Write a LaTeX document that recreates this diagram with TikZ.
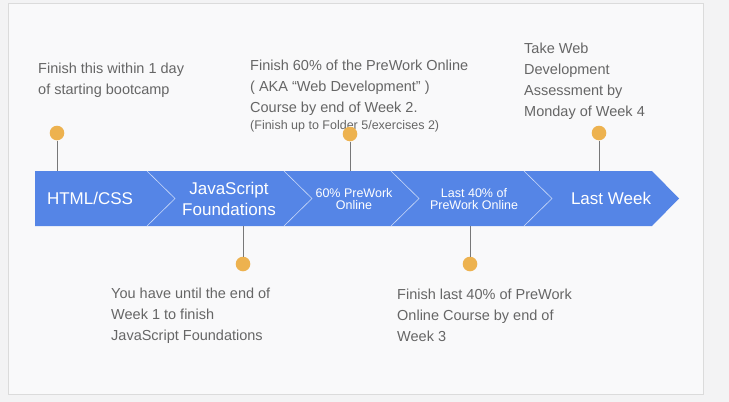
\documentclass[tikz,border=0pt]{standalone}
\usepackage{fontspec}
\setmainfont{Liberation Sans}
\definecolor{bandblue}{RGB}{85,133,230}
\definecolor{dotorange}{RGB}{237,178,79}
\definecolor{notegray}{RGB}{102,102,102}
\definecolor{stemgray}{RGB}{120,120,120}
\definecolor{cardfill}{RGB}{249,249,250}
\definecolor{pagefill}{RGB}{243,243,244}
\begin{document}
\begin{tikzpicture}[x=1pt,y=-1pt,
    note/.style={anchor=north west,inner sep=0,align=left,text=notegray,font=\fontsize{14.5}{21}\selectfont},
    stage/.style={inner sep=0,align=center,text=white,font=\fontsize{17}{21}\selectfont},
    smallstage/.style={stage,font=\fontsize{12.5}{12.5}\selectfont},
    dot/.style={circle,fill=dotorange,inner sep=0,minimum size=14.6pt},
    stem/.style={draw=stemgray,line width=1pt}]
    \useasboundingbox[fill=pagefill](0,0) rectangle (729,402);
    \draw[black!14,fill=cardfill](8,3) rectangle (703,394);
    % the band
    \fill[bandblue](35,171)--(652,171)--(679,198.5)--(652,226)--(35,226)--cycle;
\foreach \x in {147,284,391,524}
{
    \draw[white!70!bandblue,line width=0.6pt](\x,171)--(\x+28,198.5)--(\x,226);
}
\node[stage] (html) at (90,198) {HTML/CSS};
\node[stage] (js) at (229,199) {JavaScript\\Foundations};
\node[smallstage] (pwsixty) at (354,199) {60\% PreWork\\Online};
\node[smallstage] (pwforty) at (474,199) {Last 40\% of\\PreWork Online};
\node[stage] (last) at (611,198) {Last Week};
% notes
\node[note] (n1) at (38,62.6) {Finish this within 1 day\\of starting bootcamp};
\node[note] (n2) at (250,59.6) {Finish 60\% of the PreWork Online\\( AKA “Web Development” )\\Course by end of Week 2.};
\node[note,font=\fontsize{12.5}{15}\selectfont] (n2b) at (250,119.9) {(Finish up to Folder 5/exercises 2)};
\node[note] (n3) at (524,42.6) {Take Web\\Development\\Assessment by\\Monday of Week 4};
\node[note] (n4) at (111,287.6) {You have until the end of\\Week 1 to finish\\JavaScript Foundations};
\node[note] (n5) at (397,288.6) {Finish last 40\% of PreWork\\Online Course by end of\\Week 3};
% dots and stems
\node[dot] (d1) at (57,133) {};
\node[dot] (d2) at (243,264) {};
\node[dot] (d3) at (350,134) {};
\node[dot] (d4) at (470,264) {};
\node[dot] (d5) at (599,133) {};
\coordinate (e1) at (57,171);
\coordinate (e2) at (243,226);
\coordinate (e3) at (350,171);
\coordinate (e4) at (470,226);
\coordinate (e5) at (599,171);
\foreach \i in {1,...,5}
{
    \draw[stem](d\i)--(e\i);
}
\end{tikzpicture}
\end{document}
